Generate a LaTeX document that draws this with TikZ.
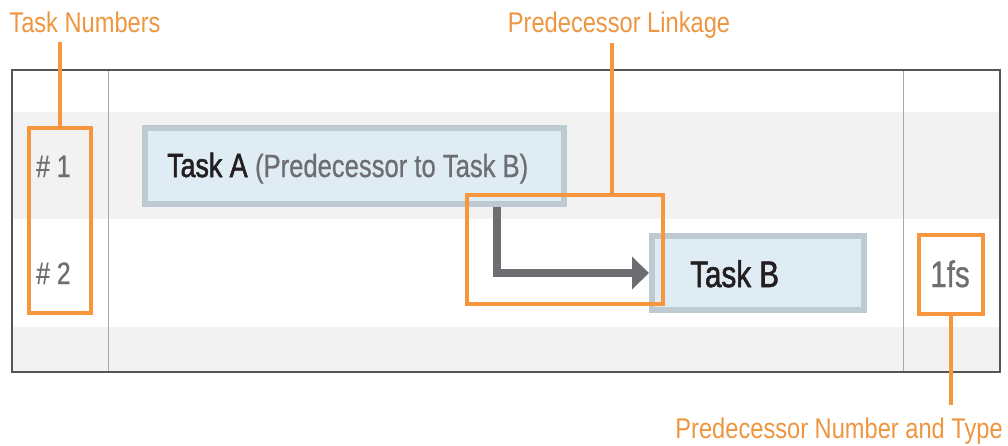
\documentclass[tikz,border=0pt]{standalone}
\usepackage{fontspec}
\setmainfont{Liberation Sans}
\newfontfamily\lblfont[FakeStretch=0.83]{Liberation Sans}
\newfontfamily\tskfont[FakeStretch=0.8,FakeBold=0.6]{Liberation Sans}
\newfontfamily\tskboldfont[FakeStretch=0.8,FakeBold=1.6]{Liberation Sans}
\usetikzlibrary{arrows.meta}
\definecolor{orng}{HTML}{F7963D}
\definecolor{orngtxt}{HTML}{EE9540}
\definecolor{band}{HTML}{F2F2F2}
\definecolor{frame}{HTML}{555555}
\definecolor{colline}{HTML}{A8A8A8}
\definecolor{taskfill}{HTML}{E0ECF4}
\definecolor{taskline}{HTML}{BDCAD2}
\definecolor{darktxt}{HTML}{231F20}
\definecolor{graytxt}{HTML}{6D6E71}
\begin{document}
\begin{tikzpicture}[x=1pt,y=-1pt,
  obox/.style={draw=orng,line width=4pt,inner sep=0pt},
  leader/.style={draw=orng,line width=4pt},
  taskbox/.style={draw=taskline,fill=taskfill,line width=6pt,inner sep=0pt},
  lbl/.style={text=orngtxt,font=\lblfont\fontsize{28.5}{30}\selectfont,inner sep=0pt},
  numtxt/.style={text=graytxt,font=\tskfont\fontsize{31}{33}\selectfont,inner sep=0pt},
  linkarrow/.style={draw=graytxt,line width=8pt,-{Triangle[length=17pt,width=32pt]}}]
\useasboundingbox (0,0) rectangle (1008,445);
% table
\fill[white] (12,70) rectangle (1000,372);
\fill[band] (12,112) rectangle (1000,219);
\fill[band] (12,327) rectangle (1000,372);
\draw[colline,line width=1pt] (108,70) -- (108,372);
\draw[colline,line width=1pt] (903,70) -- (903,372);
\draw[frame,line width=1.5pt] (12,70) rectangle (1000,372);
% task bars
\node[taskbox,minimum width=419pt,minimum height=76pt] (ta) at (354.5,166) {};
\node[taskbox,minimum width=212pt,minimum height=74pt] (tb) at (758,273) {};
\node[anchor=base west,inner sep=0pt,font=\tskboldfont\fontsize{33.5}{35}\selectfont,text=darktxt] (tatxt) at (167,177)
  {Task A {\tskfont\fontsize{32}{34}\selectfont\color{graytxt}(Predecessor to Task B)}};
\node[anchor=base west,inner sep=0pt,font=\tskboldfont\fontsize{37}{39}\selectfont,text=darktxt] (tbtxt) at (690,287) {Task B};
% numbers
\node[numtxt,anchor=base west] (n1) at (36,177) {\# 1};
\node[numtxt,anchor=base west] (n2) at (36,284) {\# 2};
\node[numtxt,anchor=base,font=\tskfont\fontsize{37}{39}\selectfont] (fs) at (950,287) {1fs};
% link arrow
\coordinate (bend) at (497,273);
\draw[linkarrow] (ta.south -| bend) -- (bend) -- (tb.west |- bend);
% orange callout boxes
\node[obox,minimum width=62pt,minimum height=185pt] (tnbox) at (60,220.5) {};
\node[obox,minimum width=196pt,minimum height=109pt] (lkbox) at (565,249.5) {};
\node[obox,minimum width=64pt,minimum height=79pt] (fsbox) at (951,274.5) {};
% labels
\node[lbl,anchor=base] (l1) at (85,32) {Task Numbers};
\node[lbl,anchor=base] (l2) at (619,32) {Predecessor Linkage};
\node[lbl,anchor=base east] (l3) at (1003,438) {Predecessor Number and Type};
% leaders
\coordinate (c1) at (60,42);
\coordinate (c2) at (612,43);
\coordinate (c3) at (951,405);
\draw[leader] (tnbox.north) -- (c1);
\draw[leader] (lkbox.north -| c2) -- (c2);
\draw[leader] (fsbox.south) -- (c3);
\end{tikzpicture}
\end{document}
